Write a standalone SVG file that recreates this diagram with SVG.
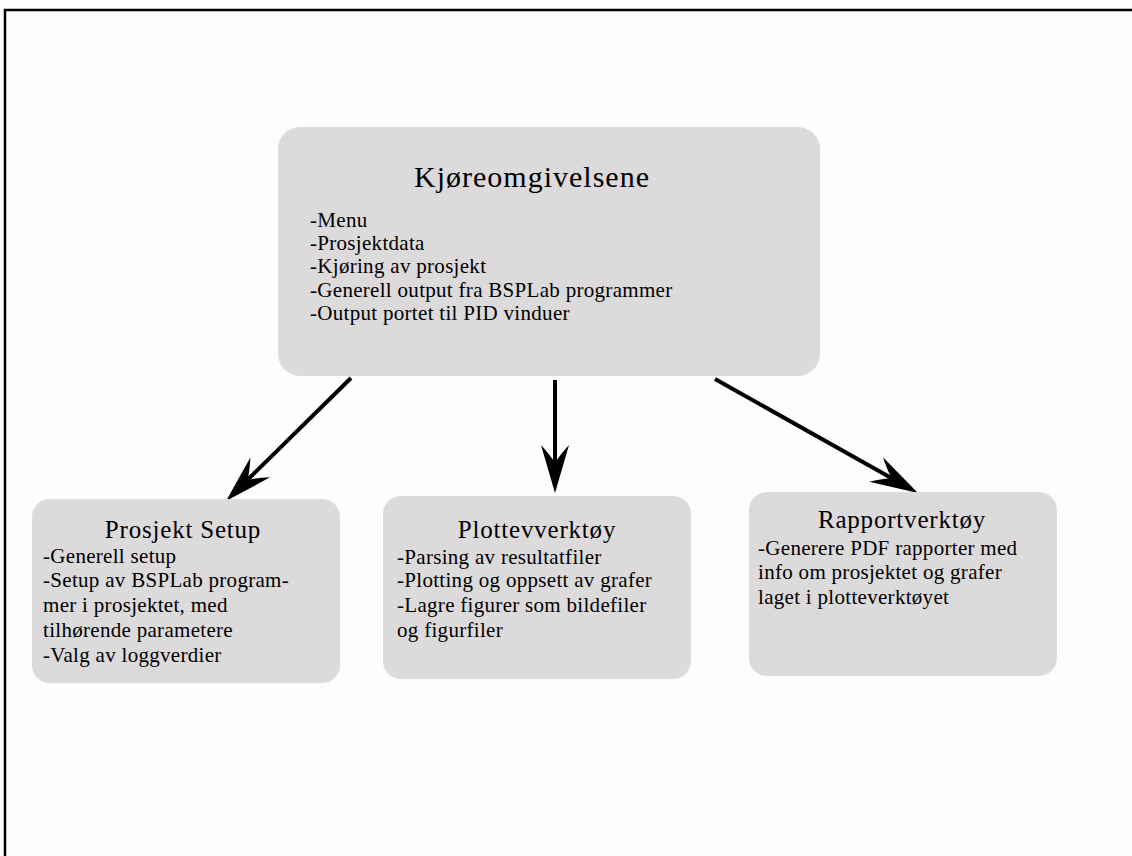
<svg xmlns="http://www.w3.org/2000/svg" width="1132" height="856" viewBox="0 0 1132 856">
<style>
.bg{fill:#fdfdfd}
.frame{stroke:#000;stroke-width:2.5;fill:none}
.box{fill:#dcdadb;stroke:none}
.t{font-family:"Liberation Serif","Times New Roman",serif;fill:#000}
.h1{font-size:30px;letter-spacing:1px}
.h2{font-size:25px;letter-spacing:0.8px}
.b{font-size:21px;letter-spacing:0.3px}
.conn{stroke:#000;stroke-width:4;fill:none;marker-end:url(#ah)}
</style>
<defs>
<marker id="ah" markerUnits="userSpaceOnUse" viewBox="-50 -16 52 32" markerWidth="52" markerHeight="32" refX="-30" refY="0" orient="auto">
<path d="M0,0 L-48,-14 Q-37,-4 -30,0 Q-37,4 -48,14 Z" fill="#000"/>
</marker>
</defs>
<rect class="bg" x="0" y="0" width="1132" height="856"/>
<path class="frame" d="M5,856 V10 H1132"/>
<g id="connectors">
<line class="conn" x1="351" y1="378" x2="247.4" y2="480"/>
<line class="conn" x1="555" y1="380" x2="555" y2="463"/>
<line class="conn" x1="715" y1="379" x2="891.8" y2="478.3"/>
</g>
<g id="kjoreomgivelsene">
<rect class="box" x="278" y="127" width="542" height="249" rx="22"/>
<text class="t h1" x="532" y="187" text-anchor="middle">Kjøreomgivelsene</text>
<text class="t b" x="310" y="227">-Menu</text>
<text class="t b" x="310" y="250">-Prosjektdata</text>
<text class="t b" x="310" y="273">-Kjøring av prosjekt</text>
<text class="t b" x="310" y="297">-Generell output fra BSPLab programmer</text>
<text class="t b" x="310" y="320">-Output portet til PID vinduer</text>
</g>
<g id="prosjekt-setup">
<rect class="box" x="32" y="499" width="308" height="184" rx="18"/>
<text class="t h2" x="183" y="538" text-anchor="middle">Prosjekt Setup</text>
<text class="t b" x="43" y="563">-Generell setup</text>
<text class="t b" x="43" y="587">-Setup av BSPLab program-</text>
<text class="t b" x="43" y="612">mer i prosjektet, med</text>
<text class="t b" x="43" y="637">tilhørende parametere</text>
<text class="t b" x="43" y="662">-Valg av loggverdier</text>
</g>
<g id="plotteverktoy">
<rect class="box" x="383" y="496" width="308" height="183" rx="18"/>
<text class="t h2" x="537" y="538" text-anchor="middle">Plottevverktøy</text>
<text class="t b" x="397" y="564">-Parsing av resultatfiler</text>
<text class="t b" x="397" y="587">-Plotting og oppsett av grafer</text>
<text class="t b" x="397" y="612">-Lagre figurer som bildefiler</text>
<text class="t b" x="397" y="637">og figurfiler</text>
</g>
<g id="rapportverktoy">
<rect class="box" x="749" y="492" width="308" height="184" rx="18"/>
<text class="t h2" x="902" y="528" text-anchor="middle">Rapportverktøy</text>
<text class="t b" x="758" y="555">-Generere PDF rapporter med</text>
<text class="t b" x="758" y="579">info om prosjektet og grafer</text>
<text class="t b" x="758" y="604">laget i plotteverktøyet</text>
</g>
</svg>
